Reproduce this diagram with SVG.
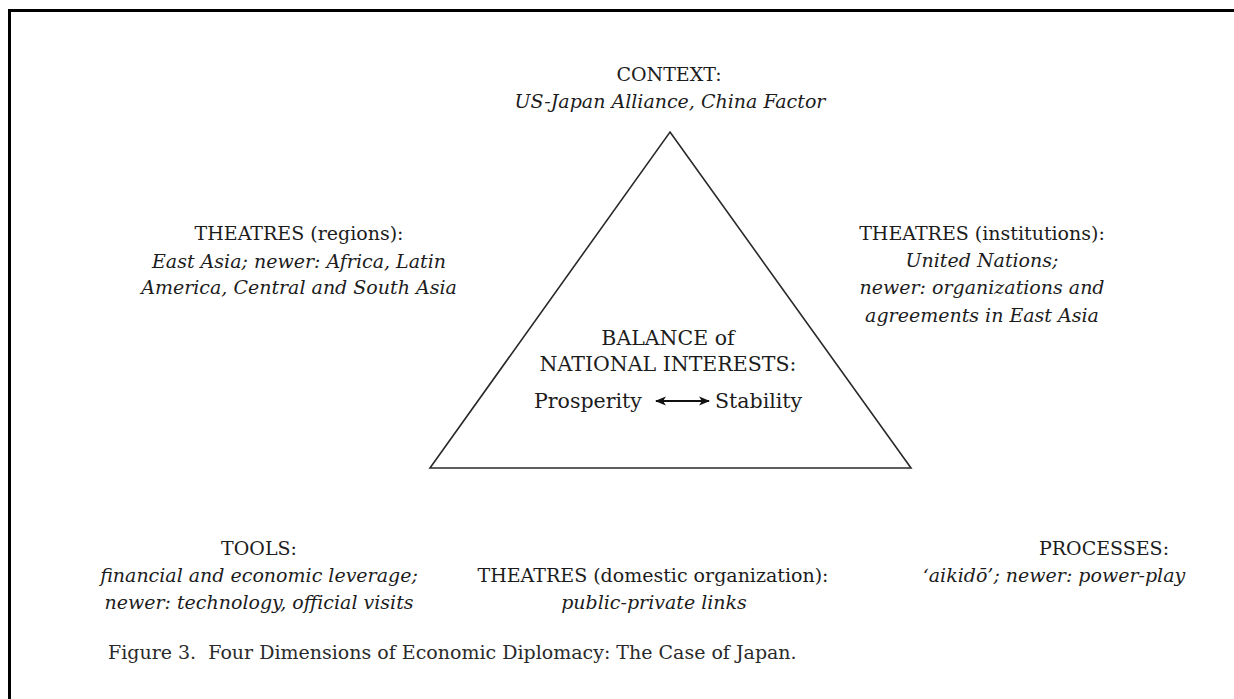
<svg xmlns="http://www.w3.org/2000/svg" width="1234" height="699" viewBox="0 0 1234 699">
<defs>
<style>
text{font-family:"DejaVu Serif","Liberation Serif",serif;font-size:19px;fill:#1c1c1c;}
.i{font-style:italic;}
.c{text-anchor:middle;}
.m{font-size:20.5px;}
.cap{font-size:19px;fill:#2a2a2a;white-space:pre;}
.frame{stroke:#000;stroke-width:3;fill:none;}
.tri{stroke:#2a2a2a;stroke-width:1.6;fill:none;stroke-linejoin:miter;}
.arr{stroke:#111;stroke-width:2;fill:none;}
</style>
<marker id="ah" viewBox="0 0 10 10" refX="9" refY="5" markerWidth="11" markerHeight="11" markerUnits="userSpaceOnUse" orient="auto-start-reverse">
<path d="M0,1 L10,5 L0,9 L2.5,5 Z" fill="#111"/>
</marker>
</defs>
<rect width="1234" height="699" fill="#fff"/>
<path class="frame" d="M9.5,699 V10.5 H1234"/>
<g id="triangle"><path class="tri" d="M670,132 L911,468 L430,468 Z"/></g>
<g id="context">
<text class="c" x="669" y="81">CONTEXT:</text>
<text class="c i" x="670" y="108">US-Japan Alliance, China Factor</text>
</g>
<g id="theatres-regions">
<text class="c" x="299" y="240">THEATRES (regions):</text>
<text class="c i" x="299" y="268">East Asia; newer: Africa, Latin</text>
<text class="c i" x="299" y="294">America, Central and South Asia</text>
</g>
<g id="balance">
<text class="c m" x="668" y="345">BALANCE of</text>
<text class="c m" x="668" y="371">NATIONAL INTERESTS:</text>
<text class="m" x="534" y="408">Prosperity</text>
<text class="m" x="715" y="408">Stability</text>
</g>
<g id="theatres-institutions">
<text class="c" x="982" y="240">THEATRES (institutions):</text>
<text class="c i" x="982" y="267">United Nations;</text>
<text class="c i" x="982" y="294">newer: organizations and</text>
<text class="c i" x="982" y="322">agreements in East Asia</text>
</g>
<g id="tools">
<text class="c" x="259" y="555">TOOLS:</text>
<text class="c i" x="259" y="582">financial and economic leverage;</text>
<text class="c i" x="259" y="609">newer: technology, official visits</text>
</g>
<g id="theatres-domestic">
<text class="c" x="653" y="582">THEATRES (domestic organization):</text>
<text class="c i" x="654" y="609">public-private links</text>
</g>
<g id="processes">
<text class="c" x="1104" y="555">PROCESSES:</text>
<text class="c i" x="1054" y="582">‘aikidō’; newer: power-play</text>
</g>
<g id="connectors">
<line class="arr" x1="656" y1="401" x2="709" y2="401" marker-start="url(#ah)" marker-end="url(#ah)"/>
</g>
<text class="cap" x="108" y="659">Figure 3.  Four Dimensions of Economic Diplomacy: The Case of Japan.</text>
</svg>
